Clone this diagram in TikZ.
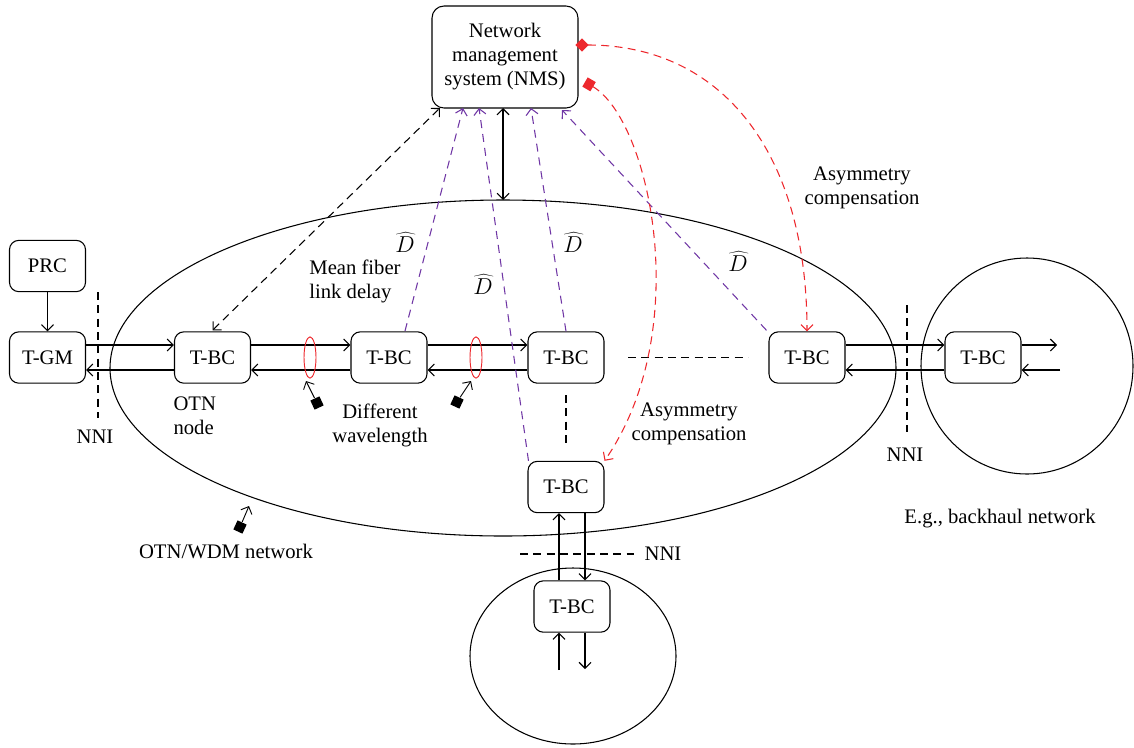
\documentclass[tikz,border=0pt]{standalone}
\usepackage{fontspec}
\setmainfont{Liberation Serif}
\usetikzlibrary{arrows.meta,calc,shapes.geometric}
\begin{document}
\begin{tikzpicture}[x=0.75pt,y=-0.75pt,
  font=\fontsize{15.5}{18}\selectfont,
  line width=0.8pt,
  >={Straight Barb[length=4.5pt,width=9pt]},
  box/.style={draw,rounded corners=7pt,minimum width=57pt,minimum height=38.5pt,inner sep=0pt},
  lbl/.style={align=center,inner sep=0pt},
  dhat/.style={inner sep=0pt,font=\fontsize{18}{20}\selectfont},
  red dash/.style={draw={rgb,255:red,237;green,40;blue,45},dash pattern=on 6pt off 4pt,line width=0.8pt},
  purp dash/.style={draw={rgb,255:red,112;green,55;blue,165},dash pattern=on 6pt off 4.5pt,line width=0.8pt},
  blk dash/.style={dash pattern=on 6pt off 4pt},
  icon/.style={fill=black,minimum size=7.5pt,inner sep=0pt,rectangle},
  ring/.style={draw={rgb,255:red,237;green,40;blue,45},ellipse,minimum width=9pt,minimum height=31pt,inner sep=0pt,line width=0.7pt}
]
\useasboundingbox (0,0) rectangle (1134,747);

% big regions
\draw (503,368) ellipse [x radius=393, y radius=168];
\draw (1027,366) ellipse [x radius=106, y radius=108];
\draw (573,656) ellipse [x radius=103, y radius=88];

% boxes
\node[draw,rounded corners=9pt,minimum width=109.5pt,minimum height=76.5pt,align=center,inner sep=0pt] (nms) at (505,57) {Network\\management\\system (NMS)};
\node[box] (prc) at (47.5,266) {PRC};
\node[box] (tgm) at (47.5,357.5) {T-GM};
\node[box] (bc1) at (212.5,357.5) {T-BC};
\node[box] (bc2) at (389,357.5) {T-BC};
\node[box] (bc3) at (566,357.5) {T-BC};
\node[box] (bc4) at (807,357.5) {T-BC};
\node[box] (bc5) at (983,357.5) {T-BC};
\node[box] (bc6) at (566,487) {T-BC};
\node[box] (bc7) at (572,606.5) {T-BC};

% PRC -> T-GM
\draw[->] (prc) -- (tgm);

% horizontal links
\draw[->] (tgm.east |- 0,345) -- (bc1.west |- 0,345);
\draw[->] (bc1.west |- 0,370) -- (tgm.east |- 0,370);
\draw[->] (bc1.east |- 0,345) -- (bc2.west |- 0,345);
\draw[->] (bc2.west |- 0,370) -- (bc1.east |- 0,370);
\draw[->] (bc2.east |- 0,345) -- (bc3.west |- 0,345);
\draw[->] (bc3.west |- 0,370) -- (bc2.east |- 0,370);
\draw[->] (bc4.east |- 0,345) -- (bc5.west |- 0,345);
\draw[->] (bc5.west |- 0,370) -- (bc4.east |- 0,370);
\coordinate (out5) at (1057,345);
\coordinate (in5) at (1060,370);
\draw[->] (bc5.east |- 0,345) -- (out5);
\draw[->] (in5) -- (bc5.east |- 0,370);

% vertical links
\draw[->] (bc7.north -| 559,0) -- (bc6.south -| 559,0);
\draw[->] (bc6.south -| 585,0) -- (bc7.north -| 585,0);
\coordinate (in7) at (559,670);
\coordinate (out7) at (585,669);
\draw[->] (in7) -- (bc7.south -| 559,0);
\draw[->] (bc7.south -| 585,0) -- (out7);

% dashed separators
\draw[blk dash] (98,292) -- (98,418);
\node[lbl] (nni1) at (95,437) {NNI};
\draw[blk dash] (907,305) -- (907,432);
\node[lbl] (nni2) at (905,455) {NNI};
\draw[blk dash] (520,554) -- (634,554);
\node[lbl] (nni3) at (663,554) {NNI};
\draw[blk dash] (bc3.east -| 628,0) -- (bc4.west -| 748,0);
\draw[blk dash] (566,395) -- (566,445);

% NMS <-> network
\coordinate (nb) at (503,108);
\coordinate (ntop) at (503,200);
\draw[<->] (nb) -- (ntop);

% NMS attach points
\coordinate (na) at (440,108);
\coordinate (n1) at (463,108);
\coordinate (n2) at (479,108);
\coordinate (n3) at (531,108);
\coordinate (n4) at (562,110);
\draw[blk dash,<->] ($(bc1.north)+(0,-1)$) -- (na);
\draw[purp dash,->] (405,331) -- (n1);
\draw[purp dash,->] (bc6.north west) ++(1,0) -- (n2);
\draw[purp dash,->] (bc3.north) -- (n3);
\draw[purp dash,->] (bc4.north west) ++(-2,-1) -- (n4);

% red asymmetry compensation
\coordinate (r1) at (578,45);
\coordinate (r2) at (585,82);
\draw[red dash,{Diamond[length=10pt,width=10pt,fill={rgb,255:red,237;green,40;blue,45},sep=-2pt]}->] (r1) .. controls (720,45) and (807,150) .. (bc4.north);
\draw[red dash,{Square[length=7pt,width=8pt,fill={rgb,255:red,237;green,40;blue,45}]}->] (r2) .. controls (650,120) and (695,330) .. (bc6.north east);

% wavelength rings
\node[ring] (w1) at (310,357.5) {};
\node[ring] (w2) at (476,357.5) {};

% icons
\node[icon,rotate=25] (i1) at (317,403) {};
\draw[->,line width=0.7pt] (i1) -- (306,381);
\node[icon,rotate=-25] (i2) at (457,402) {};
\draw[->,line width=0.7pt] (i2) -- (471,381);
\node[icon,rotate=-25] (i3) at (240,527) {};
\draw[->,line width=0.7pt] (i3) -- (249,506);

% labels
\node[lbl] (l1) at (862,188) {Asymmetry\\compensation};
\node[lbl] (l2) at (689,424) {Asymmetry\\compensation};
\node[lbl,align=left] (l3) at (355,281) {Mean fiber\\link delay};
\node[lbl,align=left,anchor=west] (l4) at (173,416) {OTN\\node};
\node[lbl] (l5) at (380,425) {Different\\wavelength};
\node[lbl] (l6) at (226,551) {OTN/WDM network};
\node[lbl] (l7) at (1000,519) {E.g., backhaul network};
\node[dhat] (d1) at (405,242) {$\widehat{D}$};
\node[dhat] (d2) at (483,284) {$\widehat{D}$};
\node[dhat] (d3) at (573,242) {$\widehat{D}$};
\node[dhat] (d4) at (738,261) {$\widehat{D}$};
\end{tikzpicture}
\end{document}
